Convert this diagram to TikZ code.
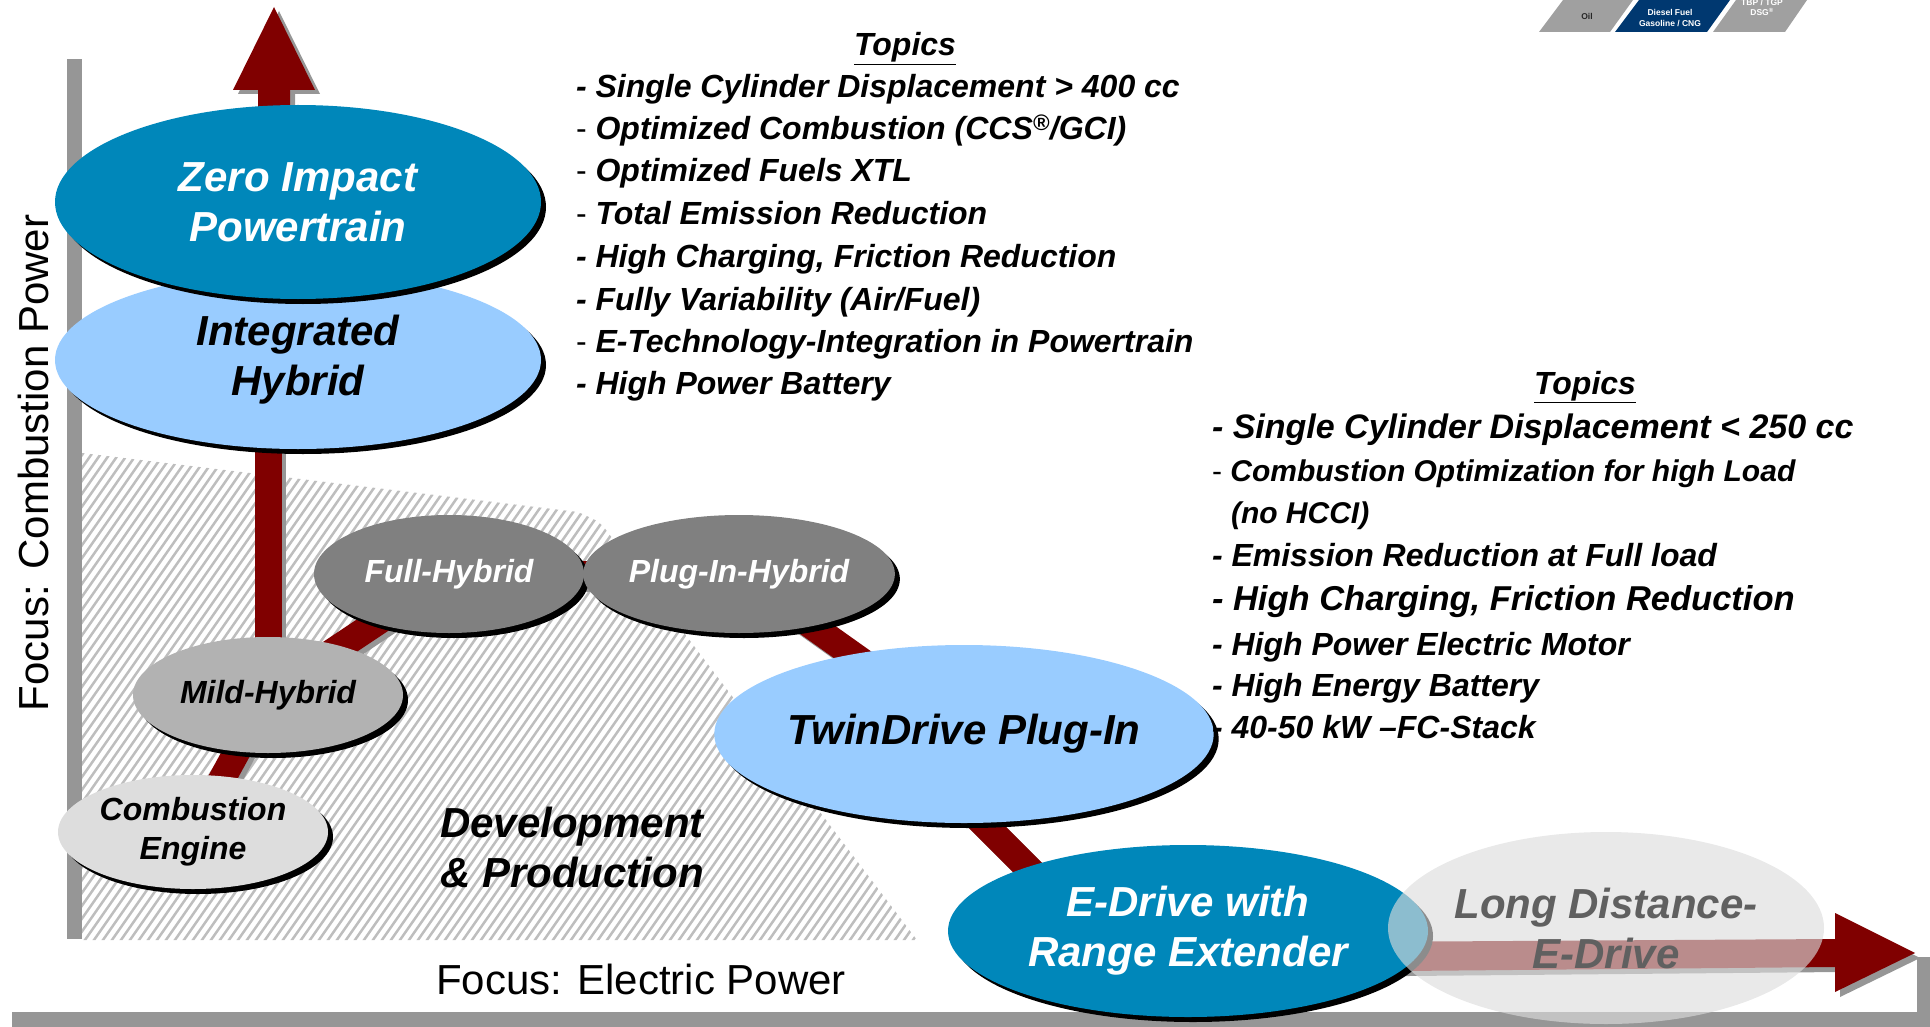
\documentclass[tikz,border=0pt]{standalone}
\usepackage{fontspec}
\setmainfont{Liberation Sans}
\usetikzlibrary{shapes.geometric,shadows,calc}

\definecolor{tdred}{RGB}{128,0,0}
\definecolor{tdblue}{RGB}{0,135,186}
\definecolor{tdlight}{RGB}{153,204,255}
\definecolor{tdgray}{RGB}{128,128,128}
\definecolor{tdmild}{RGB}{178,178,178}
\definecolor{tdpale}{RGB}{221,221,221}
\definecolor{axisgray}{RGB}{150,150,150}
\definecolor{hatchgray}{RGB}{190,190,190}
\definecolor{longgray}{RGB}{220,220,220}
\definecolor{textgray}{RGB}{96,96,96}
\definecolor{navy}{RGB}{0,56,112}
\definecolor{logogray}{RGB}{160,160,160}

\newcommand\fsz[2]{\fontsize{#1}{#2}\selectfont}
\newcommand\thindash{{\mdseries\upshape -}}

\pgfdeclarelayer{hatchlayer}
\pgfdeclarelayer{linklayer}
\pgfsetlayers{hatchlayer,linklayer,main}

\begin{document}
\begin{tikzpicture}[x=1pt,y=-1pt,
  every node/.style={inner sep=0pt, outer sep=0pt},
  oval/.style={ellipse, draw=none, align=center,
    drop shadow={shadow xshift=5pt, shadow yshift=-5pt, fill=black, opacity=1}},
  bigtext/.style={font=\fsz{42}{50}\bfseries\itshape},
  midtext/.style={font=\fsz{32}{39}\bfseries\itshape},
  link/.style={line width=27pt, draw=tdred},
  linkshade/.style={line width=27pt, draw=axisgray,
    transform canvas={xshift=4pt, yshift=-4pt}},
  topic/.style={anchor=base west, font=\fsz{32}{38}\bfseries\itshape},
  heading/.style={anchor=base, font=\fsz{32}{38}\bfseries\itshape},
  axislabel/.style={font=\fsz{42}{46}},
  logotext/.style={font=\fsz{8.5}{10}\bfseries, align=center},
]
\useasboundingbox (0,0) rectangle (1930,1027);

% ---------- axes and hatched development area ----------
\begin{pgfonlayer}{hatchlayer}
  \fill[axisgray] (67,59) rectangle (82,939);
  \fill[axisgray] (12,1012) rectangle (1930,1027);
  \fill[axisgray] (1917,957) rectangle (1930,1012);
  \begin{scope}
    \clip (82,453) -- (578,512) [rounded corners=8pt] -- (600,522) [sharp corners] -- (917,940) -- (82,940) -- cycle;
    \foreach \k in {0,...,140}
      \draw[hatchgray, line width=2.5pt] ({-300+9*\k},950) -- ++(360,-515);
  \end{scope}
\end{pgfonlayer}

% ---------- stages ----------
\node[oval, fill=tdpale, midtext, minimum width=270pt, minimum height=114pt] (comb) at (193,832) {Combustion\\Engine};
\node[oval, fill=tdmild, midtext, minimum width=270pt, minimum height=116pt] (mild) at (268,695) {Mild-Hybrid};
\node[oval, fill=tdgray, text=white, midtext, minimum width=270pt, minimum height=118pt] (full) at (449,574) {Full-Hybrid};
\node[oval, fill=tdgray, text=white, midtext, minimum width=276pt, minimum height=118pt] (plug) at (739,574) {Plug-In-Hybrid};
\node[oval, fill=tdlight, bigtext, minimum width=486pt, minimum height=178pt] (integ) at (298,360) {Integrated\\Hybrid};
\node[oval, fill=tdblue, text=white, bigtext, minimum width=486pt, minimum height=194pt] (zero) at (298,202) {Zero Impact\\Powertrain};
\node[oval, fill=tdlight, bigtext, minimum width=480pt, minimum height=178pt] (twin) at (964,734) {TwinDrive Plug-In};
\node[oval, fill=tdblue, text=white, bigtext, minimum width=480pt, minimum height=172pt] (edrive) at (1188,931) {E-Drive with\\Range Extender};
\node[ellipse, align=center, fill=longgray, fill opacity=0.64, text opacity=1, text=textgray, bigtext,
      minimum width=436pt, minimum height=192pt] (long) at (1606,928) {Long Distance-\\E-Drive};

\node[bigtext, align=center] (devprod) at (572,847) {Development\\\& Production};

% ---------- connectors and arrows ----------
\coordinate (utip) at (274,7);
\coordinate (rtip) at (1915,953);
\begin{pgfonlayer}{linklayer}
  \draw[linkshade] (comb.center) -- (mild.center);
  \draw[linkshade] (mild.center) -- (mild.center |- integ.center);
  \draw[linkshade] (mild.center) -- (full.center);
  \draw[linkshade] (full.center) -- (plug.center);
  \draw[linkshade] (plug.center) -- (twin.center);
  \draw[linkshade] ($(twin.center)+(-24,46)$) -- ($(edrive.center)+(-108,-11)$);
  \draw[link] (comb.center) -- (mild.center);
  \draw[link] (mild.center) -- (mild.center |- integ.center);
  \draw[link] (mild.center) -- (full.center);
  \draw[link] (full.center) -- (plug.center);
  \draw[link] (plug.center) -- (twin.center);
  \draw[link] ($(twin.center)+(-24,46)$) -- ($(edrive.center)+(-108,-11)$);
  % upward arrow out of the top stage
  \foreach \c/\sh in {axisgray/{xshift=5pt,yshift=-4pt}, tdred/{}}{
    \fill[\c, transform canvas/.expanded={\sh}]
      ($(utip |- zero.center)+(-16,0)$) -- ($(utip)+(-16,83)$) -- ($(utip)+(-41,83)$)
      -- (utip) -- ($(utip)+(41,83)$) -- ($(utip)+(16,83)$) -- ($(utip |- zero.center)+(16,0)$) -- cycle;
  }
  % arrow to the right along the electric axis
  \foreach \c/\sh in {axisgray/{xshift=5pt,yshift=-5pt}, tdred/{}}{
    \fill[\c, transform canvas/.expanded={\sh}]
      ($(edrive.center)+(0,12)$) -- ($(rtip)+(-80,-14)$) -- ($(rtip)+(-80,-40)$)
      -- (rtip) -- ($(rtip)+(-80,39)$) -- ($(rtip)+(-80,14)$) -- ($(edrive.center)+(0,42)$) -- cycle;
  }
\end{pgfonlayer}

% ---------- axis labels ----------
\node[axislabel, rotate=90] (ylabel) at (33,463) {Focus: Combustion Power};
\node[axislabel] (xlabel) at (641,979) {Focus: Electric Power};

% ---------- topics, combustion side ----------
\node[heading] (ta0) at (905,56) {\underline{Topics}};
\node[topic] (ta1) at (576,98)  {- Single Cylinder Displacement > 400 cc};
\node[topic] (ta2) at (576,140) {\thindash\ Optimized Combustion (CCS\textsuperscript{®}/GCI)};
\node[topic] (ta3) at (576,182) {\thindash\ Optimized Fuels XTL};
\node[topic] (ta4) at (576,225) {\thindash\ Total Emission Reduction};
\node[topic] (ta5) at (576,267) {- High Charging, Friction Reduction};
\node[topic] (ta6) at (576,310) {- Fully Variability (Air/Fuel)};
\node[topic] (ta7) at (576,352) {\thindash\ E-Technology-Integration in Powertrain};
\node[topic] (ta8) at (576,394) {- High Power Battery};

% ---------- topics, electric side ----------
\node[heading] (tb0) at (1585,394) {\underline{Topics}};
\node[topic, font=\fsz{34}{38}\bfseries\itshape] (tb1) at (1212,438) {- Single Cylinder Displacement < 250 cc};
\node[topic, font=\fsz{30}{36}\bfseries\itshape] (tb2) at (1212,481) {\thindash\ Combustion Optimization for high Load};
\node[topic, font=\fsz{30}{36}\bfseries\itshape] (tb3) at (1231,523) {(no HCCI)};
\node[topic] (tb4) at (1212,566) {- Emission Reduction at Full load};
\node[topic, font=\fsz{34.5}{38}\bfseries\itshape] (tb5) at (1212,610) {- High Charging, Friction Reduction};
\node[topic] (tb6) at (1212,655) {- High Power Electric Motor};
\node[topic] (tb7) at (1212,696) {- High Energy Battery};
\node[topic] (tb8) at (1212,738) {- 40-50 kW --FC-Stack};

% ---------- product tabs in the corner ----------
\fill[logogray] (1539,32) -- (1563,0) -- (1633,0) -- (1610,32) -- cycle;
\fill[navy] (1615,32) -- (1639,0) -- (1730,0) -- (1707,32) -- cycle;
\fill[logogray] (1713,32) -- (1736,0) -- (1807,0) -- (1785,32) -- cycle;
\node[logotext, text=black!85] (tab1) at (1587,16) {Oil};
\node[logotext, text=white] (tab2) at (1670,18) {Diesel Fuel\\[1pt]Gasoline / CNG};
\node[logotext, text=white] (tab3) at (1762,7) {TBP / TGP\\DSG\textsuperscript{®}};
\end{tikzpicture}
\end{document}
